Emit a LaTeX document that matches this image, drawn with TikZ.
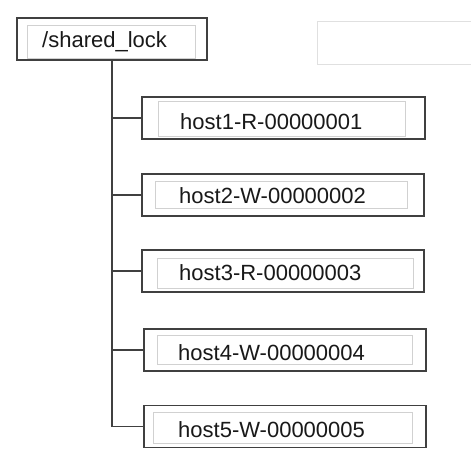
\documentclass[tikz,border=0pt]{standalone}
\usepackage{fontspec}
\setmainfont{Liberation Sans}
\usetikzlibrary{positioning}

\begin{document}
\begin{tikzpicture}[x=1pt,y=-1pt,
  outerbox/.style={draw=black!75,line width=1.3pt,rectangle,inner sep=0pt,minimum height=42},
  innerbox/.style={draw=black!18,line width=0.5pt,rectangle,inner sep=0pt},
  label/.style={inner sep=0pt,text=black!90,font=\fontsize{22}{26}\selectfont},
  branch/.style={draw=black!75,line width=1.2pt}]

\useasboundingbox (0,0) rectangle (471,466);
\fill[white] (0,0) rectangle (471,466);

\draw[black!12,line width=0.8pt] (317,21) rectangle (472,64);

\node[outerbox,minimum width=190] (lock) at (112,39) {};
\node[innerbox,minimum width=168,minimum height=33] (lockin) at (111,41.5) {};
\node[label,anchor=base west] (locktext) at (42,47) {/shared\_lock};

\node[outerbox,minimum width=283] (h1) at (283.5,118) {};
\node[innerbox,minimum width=247,minimum height=35] (h1in) at (282,118.5) {};
\node[label,anchor=base west] (h1text) at (180,129.5) {host1-R-00000001};

\node[outerbox,minimum width=282] (h2) at (283,195) {};
\node[innerbox,minimum width=252,minimum height=27] (h2in) at (281,195) {};
\node[label,anchor=base west] (h2text) at (179,203) {host2-W-00000002};

\node[outerbox,minimum width=282] (h3) at (283,271) {};
\node[innerbox,minimum width=256,minimum height=30] (h3in) at (285,273) {};
\node[label,anchor=base west] (h3text) at (179,280.5) {host3-R-00000003};

\node[outerbox,minimum width=282] (h4) at (285,350) {};
\node[innerbox,minimum width=255,minimum height=29] (h4in) at (284.5,349.5) {};
\node[label,anchor=base west] (h4text) at (178,360) {host4-W-00000004};

\node[outerbox,minimum width=282] (h5) at (285,426.5) {};
\node[innerbox,minimum width=259,minimum height=31] (h5in) at (282.5,428) {};
\node[label,anchor=base west] (h5text) at (178,437) {host5-W-00000005};

\draw[branch] (lock.south) -- (lock.south |- h5.west);
\draw[branch] (lock.south |- h1.west) -- (h1.west);
\draw[branch] (lock.south |- h2.west) -- (h2.west);
\draw[branch] (lock.south |- h3.west) -- (h3.west);
\draw[branch] (lock.south |- h4.west) -- (h4.west);
\draw[branch] (lock.south |- h5.west) -- (h5.west);
\end{tikzpicture}
\end{document}
